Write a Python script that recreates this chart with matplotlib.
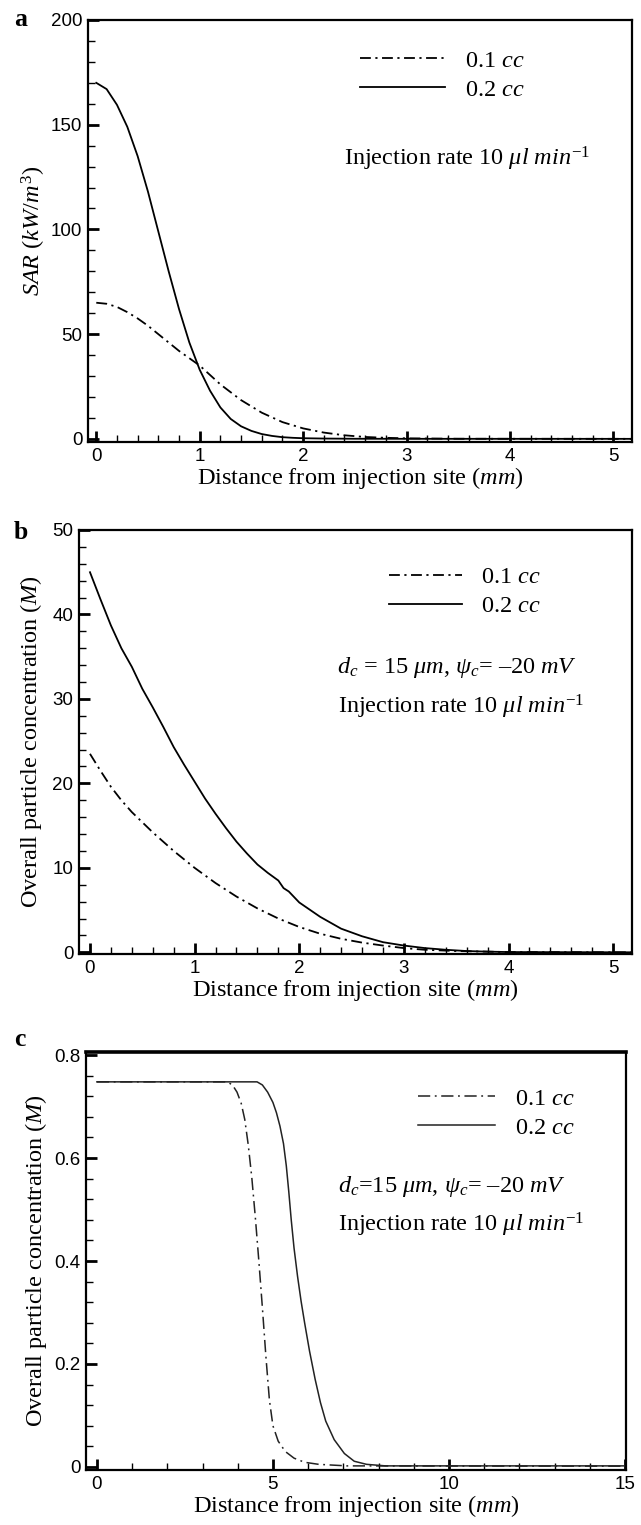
import matplotlib
matplotlib.use("Agg")
from matplotlib import pyplot as plt
from matplotlib.ticker import MultipleLocator, FormatStrFormatter

# ---- data ----
# (a) SAR vs distance
a_x_02 = [0.0, 0.1, 0.2, 0.3, 0.4, 0.5, 0.6, 0.7, 0.8, 0.9, 1.0, 1.1, 1.2, 1.3,
          1.4, 1.5, 1.6, 1.7, 1.8, 1.9, 2.0, 2.2, 2.5, 3.0, 5.2]
a_y_02 = [170, 167, 159.5, 149, 135, 118, 99, 80, 62, 46, 33, 23, 15, 9.5,
          6.0, 3.8, 2.3, 1.4, 0.8, 0.5, 0.3, 0.15, 0.05, 0.02, 0.0]
a_x_01 = [0.0, 0.1, 0.2, 0.3, 0.4, 0.5, 0.6, 0.7, 0.8, 0.9, 1.0, 1.2, 1.4, 1.6,
          1.8, 2.0, 2.2, 2.4, 2.6, 2.8, 3.0, 3.5, 5.2]
a_y_01 = [65, 64.5, 63, 60.5, 57.5, 54, 50, 46, 42, 38.5, 35, 26, 18.5, 12.5,
          8.0, 5.0, 3.0, 1.7, 0.9, 0.5, 0.25, 0.05, 0.0]

# (b) overall particle concentration, short range
b_x_02 = [0.0, 0.1, 0.2, 0.3, 0.4, 0.5, 0.6, 0.7, 0.8, 0.9, 1.0, 1.1, 1.2, 1.3,
          1.4, 1.5, 1.6, 1.7, 1.8, 1.85, 1.9, 2.0, 2.2, 2.4, 2.6, 2.8, 3.0,
          3.2, 3.4, 3.6, 3.8, 4.0, 5.2]
b_y_02 = [45.0, 41.8, 38.7, 36.0, 33.8, 31.2, 29.0, 26.7, 24.3, 22.2, 20.2,
          18.2, 16.4, 14.7, 13.1, 11.7, 10.4, 9.4, 8.5, 7.6, 7.2, 5.9, 4.2,
          2.8, 1.9, 1.2, 0.8, 0.5, 0.3, 0.15, 0.08, 0.03, 0.0]
b_x_01 = [0.0, 0.1, 0.2, 0.3, 0.4, 0.5, 0.6, 0.8, 1.0, 1.2, 1.4, 1.6, 1.8, 2.0,
          2.2, 2.4, 2.6, 2.8, 3.0, 3.2, 3.5, 4.0, 5.2]
b_y_01 = [23.5, 21.5, 19.6, 18.0, 16.6, 15.4, 14.2, 12.0, 10.0, 8.2, 6.6, 5.2,
          4.0, 3.0, 2.2, 1.6, 1.15, 0.8, 0.5, 0.3, 0.15, 0.03, 0.0]

# (c) overall particle concentration, long range
c_x_02 = [0.0, 4.55, 4.7, 4.85, 5.0, 5.1, 5.2, 5.3, 5.38, 5.45, 5.52, 5.6,
          5.7, 5.8, 5.9, 6.04, 6.2, 6.35, 6.5, 6.74, 7.03, 7.31, 7.66, 8.2,
          15.0]
c_y_02 = [0.748, 0.748, 0.742, 0.728, 0.708, 0.688, 0.662, 0.628, 0.585,
          0.535, 0.48, 0.425, 0.37, 0.322, 0.28, 0.225, 0.17, 0.125, 0.089,
          0.053, 0.026, 0.011, 0.005, 0.002, 0.002]
c_x_01 = [0.0, 3.7, 3.85, 3.98, 4.1, 4.2, 4.3, 4.4, 4.5, 4.6, 4.7, 4.8, 4.9,
          5.0, 5.15, 5.35, 5.6, 5.9, 6.3, 7.1, 15.0]
c_y_01 = [0.748, 0.748, 0.742, 0.728, 0.706, 0.675, 0.625, 0.562, 0.485,
          0.4, 0.31, 0.215, 0.13, 0.08, 0.05, 0.03, 0.017, 0.009, 0.005,
          0.002, 0.0015]

labels = ["0.1 $cc$", "0.2 $cc$"]
xlabel = "Distance from injection site ($mm$)"
rate_txt = "Injection rate 10 $\\mu l$ $min^{-1}$"

plt.rcParams["font.family"] = ["Liberation Serif", "DejaVu Serif"]
plt.rcParams["mathtext.fontset"] = "custom"
plt.rcParams["mathtext.rm"] = "Liberation Serif"
plt.rcParams["mathtext.it"] = "Liberation Serif:italic"

fig = plt.figure(figsize=(6.41, 15.25), dpi=100)
H = 1525.0
W = 641.0
FS = 17.5


def make_ax(l, r, t, b):
    return fig.add_axes([l / W, 1 - b / H, (r - l) / W, (b - t) / H])


def style(ax, xmaj, xmin, ymaj, ymin):
    ax.xaxis.set_major_locator(MultipleLocator(xmaj))
    ax.xaxis.set_minor_locator(MultipleLocator(xmin))
    ax.yaxis.set_major_locator(MultipleLocator(ymaj))
    ax.yaxis.set_minor_locator(MultipleLocator(ymin))
    ax.xaxis.set_major_formatter(FormatStrFormatter("%g"))
    ax.yaxis.set_major_formatter(FormatStrFormatter("%g"))
    ax.tick_params(which="both", direction="in", top=False, right=False)
    ax.tick_params(which="major", length=8, width=2, pad=4)
    ax.tick_params(which="minor", length=5, width=1)
    ax.tick_params(labelsize=13.5)
    for lab in ax.get_xticklabels() + ax.get_yticklabels():
        lab.set_family("Liberation Sans")
    for s in ax.spines.values():
        s.set_linewidth(1.6)
    ax.set_xlabel(xlabel, fontsize=FS, labelpad=0)


def add_legend(ax, x, y, hl):
    ax.legend(loc="upper left", bbox_to_anchor=(x, y), frameon=False,
              fontsize=FS, handlelength=hl, handletextpad=0.8,
              labelspacing=0.3, borderpad=0, borderaxespad=0)


dash = (0, (6, 2.5, 1.2, 2.5))

# ---- panel a ----
ax1 = make_ax(88, 632, 20, 442)
ax1.plot(a_x_01, a_y_01, color="black", lw=1.3, ls=dash, label=labels[0])
ax1.plot(a_x_02, a_y_02, color="black", lw=1.3, ls="-", label=labels[1])
ax1.set_xlim(-0.08, 5.18)
ax1.set_ylim(-1.5, 200)
style(ax1, 1, 0.2, 50, 10)
ax1.set_ylabel("$SAR$ ($kW/m^3$)", fontsize=FS, labelpad=2)
add_legend(ax1, 0.5, 0.93, 3.5)
ax1.text(0.471, 0.672, rate_txt, transform=ax1.transAxes, fontsize=FS,
         va="center", ha="left")

# ---- panel b ----
ax2 = make_ax(79, 632, 530, 954)
ax2.plot(b_x_01, b_y_01, color="black", lw=1.3, ls=dash, label=labels[0])
ax2.plot(b_x_02, b_y_02, color="black", lw=1.3, ls="-", label=labels[1])
ax2.set_xlim(-0.105, 5.18)
ax2.set_ylim(-0.2, 50)
style(ax2, 1, 0.2, 10, 2)
ax2.set_ylabel("Overall particle concentration ($M$)", fontsize=FS, labelpad=6)
add_legend(ax2, 0.56, 0.915, 3.0)
ax2.text(0.466, 0.675, "$d_c$ = 15 $\\mu m$, $\\psi_c$= \u201320 $mV$",
         transform=ax2.transAxes, fontsize=FS, va="center", ha="left")
ax2.text(0.468, 0.582, rate_txt, transform=ax2.transAxes, fontsize=FS,
         va="center", ha="left")

# ---- panel c ----
ax3 = make_ax(86, 626, 1052, 1470)
ax3.plot(c_x_01, c_y_01, color="#222222", lw=1.1, ls=(0, (8, 3, 1.2, 3)),
         label=labels[0])
ax3.plot(c_x_02, c_y_02, color="#222222", lw=1.1, ls="-", label=labels[1])
ax3.set_xlim(-0.31, 15.03)
ax3.set_ylim(-0.006, 0.806)
style(ax3, 5, 1, 0.2, 0.04)
ax3.spines["top"].set_linewidth(2.6)
ax3.set_ylabel("Overall particle concentration ($M$)", fontsize=FS, labelpad=4)
add_legend(ax3, 0.614, 0.915, 3.2)
ax3.text(0.466, 0.679, "$d_c$=15 $\\mu m$, $\\psi_c$= \u201320 $mV$",
         transform=ax3.transAxes, fontsize=FS, va="center", ha="left")
ax3.text(0.466, 0.587, rate_txt, transform=ax3.transAxes, fontsize=FS,
         va="center", ha="left")

# panel letters
for letter, y in (("a", 20), ("b", 533), ("c", 1040)):
    fig.text(14 / W, 1 - y / H, letter, fontsize=FS + 1, fontweight="bold",
             va="center", ha="left")

fig.savefig("out.png", dpi=100)
